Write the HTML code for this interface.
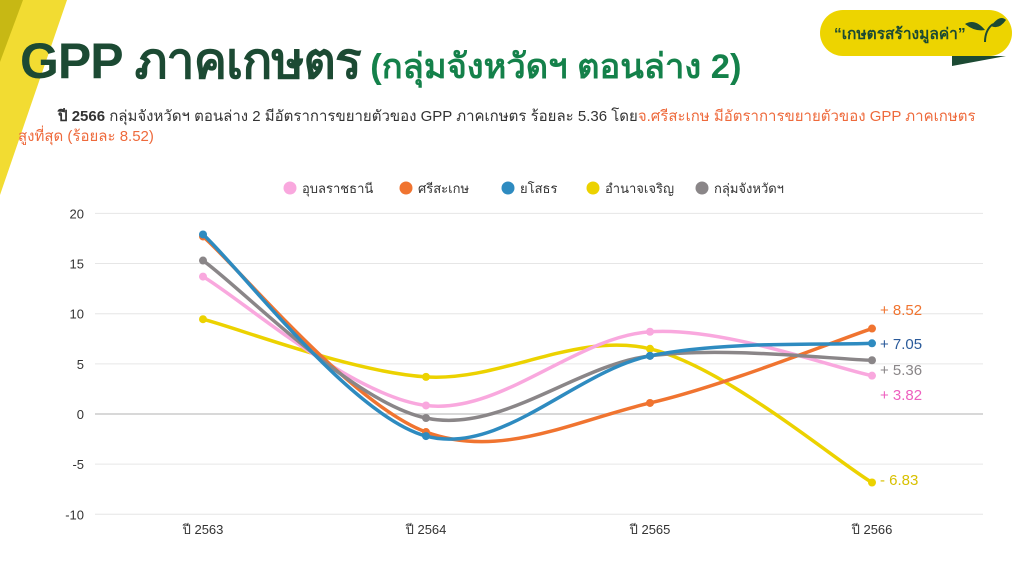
<!DOCTYPE html>
<html><head><meta charset="utf-8"><style>
body{margin:0;width:1024px;height:576px;background:#fff;overflow:hidden;position:relative;font-family:"Liberation Sans","Noto Sans CJK SC",sans-serif}
.t{position:absolute;white-space:nowrap}
</style></head><body>
<svg width="1024" height="576" style="position:absolute;left:0;top:0" id="s">
<polygon points="0,0 67,0 0,195" fill="#f2dc32"/>
<polygon points="0,0 23,0 0,62" fill="#c7b814"/>
<rect x="820" y="10" width="192" height="46" rx="23" fill="#edd400"/>
<polygon points="952,56 1006,56 952,66" fill="#1c4a33"/>
<path d="M985 42 Q985 30 993 24" stroke="#1c4a33" stroke-width="2" fill="none"/>
<path d="M985 30 Q975 18 965 24 Q975 32 985 30Z" fill="#1c4a33"/>
<path d="M991 26 Q1000 14 1006 20 Q999 30 991 26Z" fill="#1c4a33"/>
<g id="grid"></g>
<g id="ser"></g>
</svg>
<div class="t" style="left:834px;top:21px;font-size:15.5px;font-weight:bold;color:#1c4a33">“เกษตรสร้างมูลค่า”</div>
<div class="t" style="left:20px;top:22px;font-size:50px;font-weight:bold;color:#1c4a33;letter-spacing:-1px">GPP ภาคเกษตร<span style="font-size:34.5px;color:#14814a;letter-spacing:0"> (กลุ่มจังหวัดฯ ตอนล่าง 2)</span></div>
<div class="t" style="left:58px;top:104px;font-size:15px;color:#333"><b>ปี 2566</b> กลุ่มจังหวัดฯ ตอนล่าง 2 มีอัตราการขยายตัวของ GPP ภาคเกษตร ร้อยละ 5.36 โดย<span style="color:#ee6a3c">จ.ศรีสะเกษ มีอัตราการขยายตัวของ GPP ภาคเกษตร</span></div>
<div class="t" style="left:18px;top:124px;font-size:15px;color:#ee6a3c">สูงที่สุด (ร้อยละ 8.52)</div>
<script>
const s=document.getElementById('grid'),S=document.getElementById('ser');
const ns='http://www.w3.org/2000/svg';
function el(p,t,a,txt){const e=document.createElementNS(ns,t);for(const k in a)e.setAttribute(k,a[k]);if(txt!=null)e.textContent=txt;p.appendChild(e);return e;}
const Y=v=>414-v*10.03, X=[203,426,650,872];
for(let v=-10;v<=20;v+=5){el(s,'line',{x1:95,x2:983,y1:Y(v),y2:Y(v),stroke:v==0?'#ccc':'#e6e6e6','stroke-width':v==0?1.5:1});
el(s,'text',{x:84,y:Y(v)+5,'text-anchor':'end','font-size':13,fill:'#333','font-family':'Liberation Sans'},v);}
['ปี 2563','ปี 2564','ปี 2565','ปี 2566'].forEach((t,i)=>el(s,'text',{x:X[i],y:534,'text-anchor':'middle','font-size':13,fill:'#333','font-family':'Liberation Sans,Noto Sans CJK SC,sans-serif'},t));
const L=[['อุบลราชธานี','#f9a8de',290],['ศรีสะเกษ','#f07430',406],['ยโสธร','#2e8bc0',508],['อำนาจเจริญ','#ecd200',593],['กลุ่มจังหวัดฯ','#8a8688',702]];
L.forEach(l=>{el(s,'circle',{cx:l[2],cy:188,r:6.5,fill:l[1]});el(s,'text',{x:l[2]+12,y:193,'font-size':13,fill:'#333','font-family':'Liberation Sans,Noto Sans CJK SC,sans-serif'},l[0]);});
const D=[['#ecd200',[9.45,3.7,6.5,-6.83]],['#f9a8de',[13.7,0.85,8.2,3.82]],['#f07430',[17.7,-1.8,1.1,8.52]],['#8a8688',[15.3,-0.4,5.8,5.36]],['#2e8bc0',[17.9,-2.2,5.8,7.05]]];
D.forEach(([c,v])=>{const p=v.map((a,i)=>[X[i],Y(a)]);let d='M'+p[0];
for(let i=0;i<3;i++){const p0=p[Math.max(0,i-1)],p1=p[i],p2=p[i+1],p3=p[Math.min(3,i+2)];
const c1=[p1[0]+(p2[0]-p0[0])/6,p1[1]+(p2[1]-p0[1])/6],c2=[p2[0]-(p3[0]-p1[0])/6,p2[1]-(p3[1]-p1[1])/6];
d+=' C'+c1+' '+c2+' '+p2;}
el(S,'path',{d:d,stroke:c,'stroke-width':3.5,fill:'none'});p.forEach(q=>el(S,'circle',{cx:q[0],cy:q[1],r:4,fill:c}));});
[['+ 8.52','#f07430',310],['+ 7.05','#2a5a9a',344],['+ 5.36','#8a8688',370],['+ 3.82','#ee5fbf',395],['- 6.83','#d8c000',480]].forEach(a=>el(S,'text',{x:880,y:a[2]+5,'font-size':15,fill:a[1],'font-family':'Liberation Sans'},a[0]));
</script>
</body></html>
